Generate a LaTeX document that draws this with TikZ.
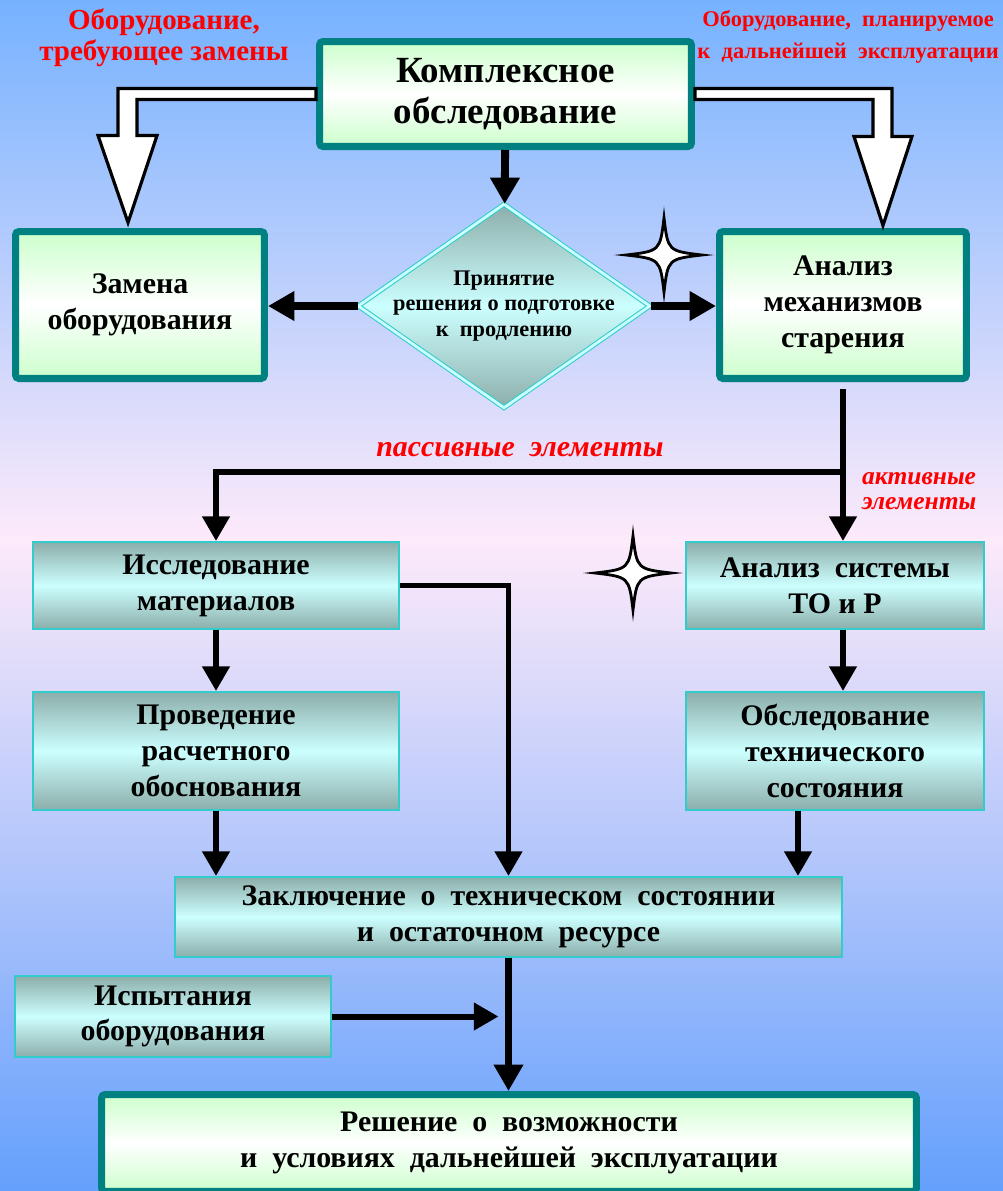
\documentclass[tikz,border=0pt]{standalone}
\usepackage{fontspec}
\setmainfont{Liberation Serif}
\usepackage{tikz}
\usetikzlibrary{arrows.meta, shapes.geometric, calc}

\definecolor{bgtop}{RGB}{118,178,255}
\definecolor{bgpink}{RGB}{253,234,250}
\definecolor{bgbottom}{RGB}{100,160,252}
\definecolor{tealline}{RGB}{0,128,128}
\definecolor{lightgreen}{RGB}{204,255,204}
\definecolor{cyanline}{RGB}{51,204,204}
\definecolor{grayteal}{RGB}{140,174,170}
\definecolor{palecyan}{RGB}{204,255,255}
\definecolor{labelred}{RGB}{255,0,0}

\tikzset{
  greenbox/.style={draw=tealline, line width=4pt, rounded corners=2pt, top color=lightgreen, bottom color=lightgreen, middle color=white, align=center, font=\fontsize{17}{20.4}\selectfont\bfseries},
  cyanbox/.style={draw=cyanline, line width=1.1pt, top color=grayteal, bottom color=grayteal, middle color=palecyan, align=center, font=\fontsize{17}{20.4}\selectfont\bfseries},
  arr/.style={line width=3.4pt, -{Triangle[length=14pt, width=15pt]}},
  bigarr/.style={line width=4.5pt, -{Triangle[length=15pt, width=16pt]}},
  hollow/.style={draw=black, fill=white, line width=1.8pt, line join=miter},
  sparkle/.style={draw=black, fill=white, line width=1.6pt},
  redlbl/.style={text=labelred, font=\bfseries, align=center}
}

\begin{document}
\begin{tikzpicture}[x=0.02cm, y=-0.02cm]
% Background
\useasboundingbox (0,0) rectangle (1003,1191);
\shade[top color=bgtop, bottom color=bgpink] (0,0) rectangle (1003,540);
\shade[top color=bgpink, bottom color=bgbottom] (0,540) rectangle (1003,1191);

% Top row
\node[greenbox, minimum width=7.44cm, minimum height=2.1cm, font=\fontsize{21}{23.2}\selectfont\bfseries] (kompl) at (505.5,94) {Комплексное\\обследование};
\node[greenbox, minimum width=4.98cm, minimum height=2.94cm] (zamena) at (140,305) {Замена\\оборудования};
\node[greenbox, minimum width=4.94cm, minimum height=2.94cm] (analiz) at (843,305) {Анализ\\механизмов\\старения};

% Decision
\node[draw=cyanline, shape=diamond, inner sep=0pt, minimum width=5.84cm, minimum height=4.08cm, line width=0.6pt, double=palecyan, double distance=1.6pt, top color=grayteal, bottom color=grayteal, middle color=palecyan] (dec) at (504,306) {};
\node[align=center, font=\fontsize{12.7}{14.7}\selectfont\bfseries] (dectext) at (dec.center) {Принятие\\решения о подготовке\\к\ \ продлению};

% Left column
\node[cyanbox, minimum width=7.32cm, minimum height=1.74cm] (issl) at (216,585.5) {Исследование\\материалов};
\node[cyanbox, minimum width=7.32cm, minimum height=2.36cm] (prov) at (216,751) {Проведение\\расчетного\\обоснования};

% Right column
\node[cyanbox, minimum width=5.96cm, minimum height=1.74cm] (sys) at (835,585.5) {Анализ\ \ системы\\ТО и Р};
\node[cyanbox, minimum width=5.96cm, minimum height=2.36cm] (obsl) at (835,751) {Обследование\\технического\\состояния};

% Bottom part
\node[cyanbox, minimum width=13.34cm, minimum height=1.6cm] (zakl) at (508.5,917) {Заключение\ \ о\ \ техническом\ \ состоянии\\и\ \ остаточном\ \ ресурсе};
\node[cyanbox, minimum width=6.32cm, minimum height=1.62cm] (isp) at (173,1016.5) {Испытания\\оборудования};
\node[greenbox, minimum width=16.3cm, minimum height=1.94cm] (resh) at (509,1143) {Решение\ \ о\ \ возможности\\и\ \ условиях\ \ дальнейшей\ \ эксплуатации};

% Red labels
\node[redlbl, font=\fontsize{16.5}{17.6}\selectfont\bfseries] (lblrepl) at (164,38) {Оборудование,\\требующее замены};
\node[redlbl, anchor=east, font=\fontsize{12.8}{18}\selectfont\bfseries] (lblkeep) at (1005,37) {Оборудование,\ \ планируемое\\к\ \ дальнейшей\ \ эксплуатации};
\node[redlbl, font=\fontsize{17}{14}\selectfont\bfseries\itshape] (lblpass) at (520,450) {пассивные\ \ элементы};
\node[redlbl, anchor=west, align=left, font=\fontsize{14.5}{14}\selectfont\bfseries\itshape] (lblact) at (856,491) {активные\\элементы};

% Hollow arrows
\draw[hollow] (kompl.west) ++(0,-5.5) -- ++(-198,0) -- ++(0,47) -- ++(-20,0) -- ++(30,87) -- ++(29,-87) -- ++(-20,0) -- ++(0,-36) -- ++(179,0) -- cycle;
\draw[hollow] (kompl.east) ++(0,-5.5) -- ++(197,0) -- ++(0,48) -- ++(20,0) -- ++(-29,89) -- ++(-29,-89) -- ++(19,0) -- ++(0,-37) -- ++(-178,0) -- cycle;

% Arrows
\coordinate (split) at (843,472);
\draw[bigarr] (kompl) -- (dec);
\draw[bigarr] (dec.west) -- (dec.west -| zamena.east);
\draw[bigarr] (dec.east) -- (dec.east -| analiz.west);
\draw[arr] ([yshift=-4pt]analiz.south) -- (split) -| (issl.north);
\draw[arr] (split) -- (split |- sys.north);
\draw[arr] (issl) -- (prov);
\draw[arr] (sys.south -| split) -- (obsl.north -| split);
\draw[arr] (prov.south) -- (prov.south |- zakl.north);
\draw[arr] (issl.east) -| (zakl.north);
\draw[arr] ($(obsl.south)+(-37,0)$) -- ($(obsl.south |- zakl.north)+(-37,0)$);
\draw[bigarr] (zakl.south) -- (zakl.south |- resh.north);
\draw[arr] (isp.east) -- ($(zakl.south |- isp.east)+(-10,0)$);

% Stars
\begin{scope}[shift={(664,255)}]
\draw[sparkle] (0,-37) .. controls (4,-4) .. (38,0) .. controls (4,4) .. (0,37) .. controls (-4,4) .. (-38,0) .. controls (-4,-4) .. (0,-37) -- cycle;
\end{scope}
\begin{scope}[shift={(633,573)}]
\draw[sparkle] (0,-37) .. controls (4,-4) .. (38,0) .. controls (4,4) .. (0,37) .. controls (-4,4) .. (-38,0) .. controls (-4,-4) .. (0,-37) -- cycle;
\end{scope}
\end{tikzpicture}
\end{document}
